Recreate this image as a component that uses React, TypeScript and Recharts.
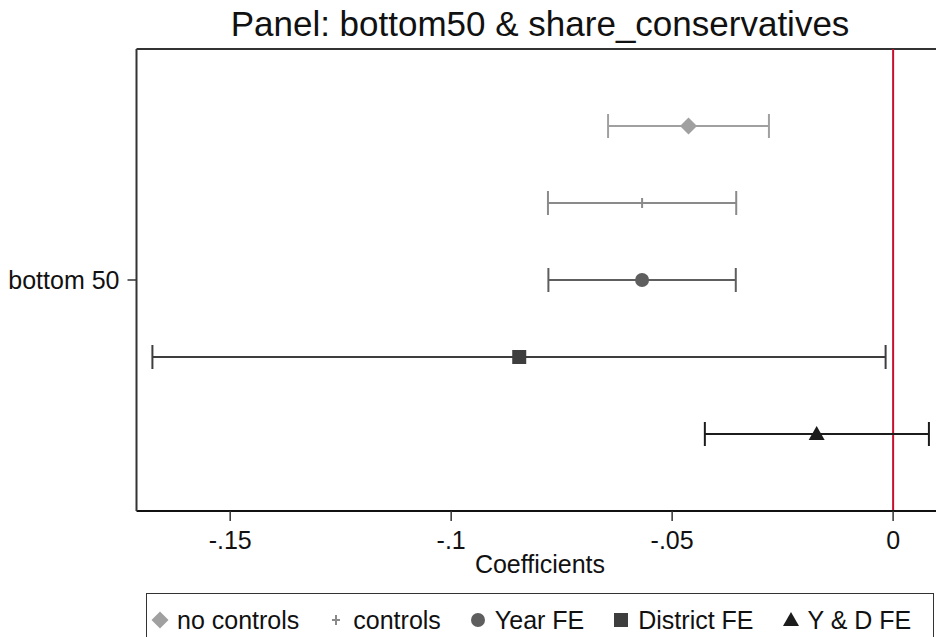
import { FC } from 'react'
import {
	ErrorBar,
	ReferenceLine,
	Scatter,
	ScatterChart,
	XAxis,
	YAxis,
	Label,
} from 'recharts'

const FONT = '"Liberation Sans", Arial, Helvetica, sans-serif'

// models, top row first
const models = ['no controls', 'controls', 'Year FE', 'District FE', 'Y & D FE']
const coef = [-0.0463, -0.0568, -0.0568, -0.0846, -0.0173]
const ciLow = [-0.0645, -0.0781, -0.078, -0.1676, -0.0426]
const ciHigh = [-0.0281, -0.0355, -0.0356, -0.0017, 0.0081]

const xTicks = [-0.15, -0.1, -0.05, 0]
const yLabels = ['bottom 50']

const COLORS = ['#a0a0a0', '#8a8a8a', '#5e5e5e', '#3e3e3e', '#1c1c1c']

const W = 960
const H = 680

const n = models.length
const series = models.map((name, i) => ({
	name,
	color: COLORS[i],
	data: [
		{
			x: coef[i],
			y: n - i,
			err: [coef[i] - ciLow[i], ciHigh[i] - coef[i]],
		},
	],
}))

const Diamond = ({ cx, cy, fill }: any) => (
	<polygon points={`${cx},${cy - 8.5} ${cx + 8.5},${cy} ${cx},${cy + 8.5} ${cx - 8.5},${cy}`} fill={fill} />
)
const Plus = ({ cx, cy, fill }: any) => (
	<g stroke={fill} strokeWidth={2}>
		<line x1={cx} y1={cy - 5} x2={cx} y2={cy + 5} />
		<line x1={cx - 4} y1={cy} x2={cx + 4} y2={cy} />
	</g>
)
const Circle = ({ cx, cy, fill }: any) => <circle cx={cx} cy={cy} r={7} fill={fill} />
const Square = ({ cx, cy, fill }: any) => <rect x={cx - 7} y={cy - 7} width={14} height={14} fill={fill} />
const Triangle = ({ cx, cy, fill }: any) => (
	<polygon points={`${cx},${cy - 8} ${cx + 8},${cy + 6} ${cx - 8},${cy + 6}`} fill={fill} />
)
const SHAPES = [Diamond, Plus, Circle, Square, Triangle]

const LegendIcon: FC<{ i: number }> = ({ i }) => {
	const Shape = SHAPES[i]
	return (
		<svg width={18} height={18} style={{ display: 'block', flexShrink: 0 }}>
			<Shape cx={9} cy={9} fill={COLORS[i]} />
		</svg>
	)
}

const fmt = (v: number) => (v === 0 ? '0' : String(v).replace('0.', '.'))

const App: FC = () => {
	return (
		<div
			style={{
				position: 'fixed',
				left: 0,
				top: 0,
				width: 936,
				height: 637,
				overflow: 'hidden',
				background: '#fff',
				fontFamily: FONT,
			}}
		>
			<div
				style={{
					position: 'absolute',
					left: 136.5,
					width: 807,
					top: 6,
					textAlign: 'center',
					fontSize: 35,
					lineHeight: '35px',
					color: '#111',
				}}
			>
				Panel: bottom50 &amp; share_conservatives
			</div>
			<ScatterChart
				width={W}
				height={H}
				margin={{ top: 49, right: 16.5, bottom: 107, left: 0.5 }}
				style={{ position: 'absolute', left: 0, top: 0 }}
			>
				<XAxis
					type="number"
					dataKey="x"
					domain={[-0.1712, 0.0114]}
					ticks={xTicks}
					tickFormatter={fmt}
					allowDataOverflow
					height={62}
					tickSize={10}
					tickMargin={10}
					axisLine={{ stroke: '#111', strokeWidth: 2 }}
					tickLine={{ stroke: '#333', strokeWidth: 1.5 }}
					tick={{ fill: '#111', fontSize: 25, fontFamily: FONT }}
				>
					<Label value="Coefficients" position="insideBottom" offset={0} fill="#111" fontSize={25} fontFamily={FONT} />
				</XAxis>
				<YAxis
					type="number"
					dataKey="y"
					domain={[0, n + 1]}
					ticks={[(n + 1) / 2]}
					tickFormatter={() => yLabels[0]}
					width={136}
					tickSize={9}
					tickMargin={8}
					axisLine={{ stroke: '#333', strokeWidth: 2 }}
					tickLine={{ stroke: '#333', strokeWidth: 1.5 }}
					tick={{ fill: '#111', fontSize: 25, fontFamily: FONT }}
				/>
				<ReferenceLine y={n + 1} stroke="#333" strokeWidth={2} />
				<ReferenceLine x={0} stroke="#c8102e" strokeWidth={2} />
				{series.map((s, i) => (
					<Scatter
						key={s.name}
						name={s.name}
						data={s.data}
						fill={s.color}
						shape={SHAPES[i]}
						isAnimationActive={false}
					>
						<ErrorBar dataKey="err" direction="x" width={12} stroke={s.color} strokeWidth={2} />
					</Scatter>
				))}
			</ScatterChart>
			<div
				style={{
					position: 'absolute',
					left: 146,
					top: 593,
					width: 788,
					height: 60,
					boxSizing: 'border-box',
					border: '1.5px solid #333',
					display: 'flex',
					flexWrap: 'nowrap',
					alignItems: 'flex-start',
					paddingTop: 13,
					paddingLeft: 4,
					fontSize: 25,
					lineHeight: '26px',
					color: '#111',
					whiteSpace: 'nowrap',
					overflow: 'hidden',
				}}
			>
				{models.map((m, i) => (
					<div
						key={m}
						style={{ display: 'flex', alignItems: 'center', flexShrink: 0, marginRight: i < n - 1 ? 28 : 0 }}
					>
						<LegendIcon i={i} />
						<span style={{ marginLeft: 8 }}>{m}</span>
					</div>
				))}
			</div>
		</div>
	)
}

export default App
